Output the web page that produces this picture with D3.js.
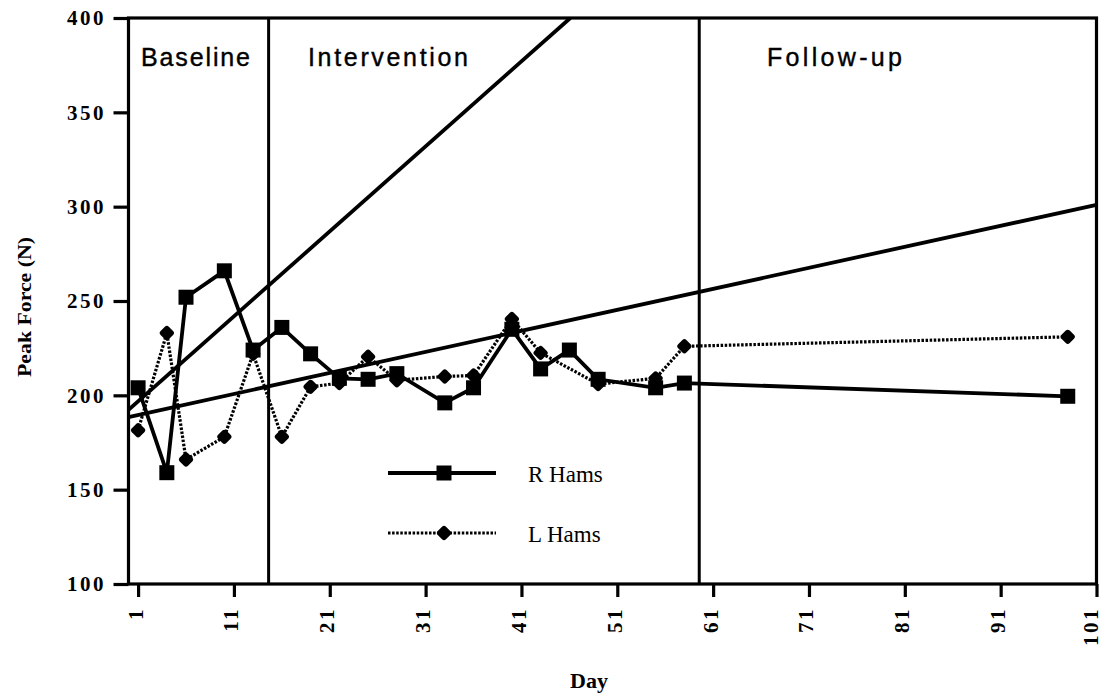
<!DOCTYPE html>
<html>
<head>
<meta charset="utf-8">
<script src="https://cdn.jsdelivr.net/npm/d3@7"></script>
<style>
  html, body { margin: 0; padding: 0; background: #fff; }
  svg { display: block; }
</style>
</head>
<body>
<svg id="chart" width="1103" height="694"></svg>
<script>
// Peak hamstring force (N) by day, across three study phases
const rDays   = [1, 4, 6, 10, 13, 16, 19, 22, 25, 28, 33, 36, 40, 43, 46, 49, 55, 58, 98];
const rValues = [204, 159, 252, 266, 224, 236, 222, 209, 208.5, 211.5, 196, 204, 235, 214, 224, 208.5, 204, 206.5, 199.5];

const lDays   = [1, 4, 6, 10, 13, 16, 19, 22, 25, 28, 33, 36, 40, 43, 49, 55, 58, 98];
const lValues = [181.5, 233, 166, 178, 222, 178, 204.5, 206.5, 220.5, 208, 210, 210.5, 240.5, 222.5, 206, 209, 226, 231];

// Fitted trend lines, each as [day, N] end points
const trendSteep   = [[0, 192.3], [46.1, 400]];
const trendShallow = [[0, 188.5], [101, 301]];

// Phase boundaries (day) and phase names
const phaseBreaks = [14.62, 59.55];
const phaseNames  = ["Baseline", "Intervention", "Follow-up"];

const xTicks = [1, 11, 21, 31, 41, 51, 61, 71, 81, 91, 101];
const yTicks = [100, 150, 200, 250, 300, 350, 400];

const seriesNames = ["R Hams", "L Hams"];

(function draw() {
  const svg = d3.select("#chart");
  const pL = 128.5, pR = 1096.5, pT = 18, pB = 584;

  const x = d3.scaleLinear().domain([0, 101]).range([pL, pR]);
  const y = d3.scaleLinear().domain([100, 400]).range([pB, pT]);

  const serif = "'Liberation Serif', 'Times New Roman', serif";
  const sans  = "'Liberation Sans', Arial, Helvetica, sans-serif";

  svg.append("defs").append("clipPath").attr("id", "plotClip")
    .append("rect").attr("x", pL).attr("y", pT)
    .attr("width", pR - pL).attr("height", pB - pT);

  // Trend lines
  const line = d3.line().x(d => x(d[0])).y(d => y(d[1]));
  const trendG = svg.append("g").attr("clip-path", "url(#plotClip)");
  [trendSteep, trendShallow].forEach(t => {
    trendG.append("path").attr("d", line(t))
      .attr("fill", "none").attr("stroke", "#000").attr("stroke-width", 3.8);
  });

  // Phase dividers
  svg.selectAll(".phase").data(phaseBreaks).enter().append("line")
    .attr("x1", d => x(d)).attr("x2", d => x(d))
    .attr("y1", pT).attr("y2", pB)
    .attr("stroke", "#000").attr("stroke-width", 3);

  // Phase labels
  const phaseLabelX = [141, 308, 767];
  const phaseLabelLen = [109, 160, 135];
  svg.selectAll(".phaseLabel").data(phaseNames).enter().append("text")
    .attr("x", (d, i) => phaseLabelX[i]).attr("y", 66)
    .attr("textLength", (d, i) => phaseLabelLen[i])
    .attr("lengthAdjust", "spacing")
    .attr("font-family", sans).attr("font-size", 25)
    .attr("stroke", "#000").attr("stroke-width", 0.4)
    .attr("fill", "#000").text(d => d);

  const lPts = lDays.map((d, i) => [d, lValues[i]]);
  const rPts = rDays.map((d, i) => [d, rValues[i]]);

  function diamond(g, cx, cy) {
    g.append("rect")
      .attr("x", -5.8).attr("y", -5.8).attr("width", 11.6).attr("height", 11.6)
      .attr("rx", 2.8)
      .attr("transform", `translate(${cx},${cy}) rotate(45)`)
      .attr("fill", "#000");
  }
  function square(g, cx, cy) {
    g.append("rect")
      .attr("x", cx - 7.5).attr("y", cy - 7.5).attr("width", 15).attr("height", 15)
      .attr("fill", "#000");
  }

  // L Hams (dotted with diamonds)
  svg.append("path").attr("d", line(lPts))
    .attr("fill", "none").attr("stroke", "#000").attr("stroke-width", 3.2)
    .attr("stroke-dasharray", "2.5,1.6");
  const lG = svg.append("g");
  lPts.forEach(p => diamond(lG, x(p[0]), y(p[1])));

  // R Hams (solid with squares)
  svg.append("path").attr("d", line(rPts))
    .attr("fill", "none").attr("stroke", "#000").attr("stroke-width", 3.8);
  const rG = svg.append("g");
  rPts.forEach(p => square(rG, x(p[0]), y(p[1])));

  // Frame
  svg.append("rect").attr("x", pL).attr("y", pT)
    .attr("width", pR - pL).attr("height", pB - pT)
    .attr("fill", "none").attr("stroke", "#000").attr("stroke-width", 3.2);

  // Y axis
  const yAxis = svg.append("g").attr("transform", `translate(${pL},0)`)
    .call(d3.axisLeft(y).tickValues(yTicks).tickSize(15).tickPadding(10).tickFormat(d3.format("d")));
  yAxis.select(".domain").remove();
  yAxis.selectAll(".tick line").attr("stroke", "#000").attr("stroke-width", 3.2);
  yAxis.selectAll(".tick text")
    .attr("font-family", serif).attr("font-weight", "bold").attr("font-size", 21)
    .attr("letter-spacing", "2.5px").attr("dx", "2.5px").attr("fill", "#000");

  // X axis (labels turned to read upward; the last one is nudged in from the edge)
  const xAxis = svg.append("g").attr("transform", `translate(0,${pB})`)
    .call(d3.axisBottom(x).tickValues(xTicks).tickSize(13).tickPadding(8).tickFormat(d3.format("d")));
  xAxis.select(".domain").remove();
  xAxis.selectAll(".tick line").attr("stroke", "#000").attr("stroke-width", 3.2);
  xAxis.selectAll(".tick text")
    .attr("font-family", serif).attr("font-weight", "bold").attr("font-size", 21)
    .attr("letter-spacing", "2.5px")
    .attr("text-anchor", "end")
    .attr("dy", null)
    .attr("transform", "rotate(-90)")
    .attr("x", -23).attr("y", d => d === xTicks[xTicks.length - 1] ? 1 : 4)
    .attr("fill", "#000");

  // Axis titles
  svg.append("text")
    .attr("transform", "translate(31,307) rotate(-90)")
    .attr("text-anchor", "middle")
    .attr("font-family", serif).attr("font-weight", "bold").attr("font-size", 19)
    .attr("textLength", 140).attr("lengthAdjust", "spacingAndGlyphs")
    .attr("fill", "#000").text("Peak Force (N)");

  svg.append("text")
    .attr("x", 589).attr("y", 688).attr("text-anchor", "middle")
    .attr("font-family", serif).attr("font-weight", "bold").attr("font-size", 22)
    .attr("fill", "#000").text("Day");

  // Legend
  const legendY = [473, 533];
  const lgX1 = 388, lgX2 = 496, lgMid = 444, lgText = 528;
  const leg = svg.append("g");
  leg.append("line").attr("x1", lgX1).attr("x2", lgX2).attr("y1", legendY[0]).attr("y2", legendY[0])
    .attr("stroke", "#000").attr("stroke-width", 3.8);
  square(leg, lgMid, legendY[0]);
  leg.append("line").attr("x1", lgX1).attr("x2", lgX2).attr("y1", legendY[1]).attr("y2", legendY[1])
    .attr("stroke", "#000").attr("stroke-width", 3.2).attr("stroke-dasharray", "2.5,1.6");
  diamond(leg, lgMid, legendY[1]);
  leg.selectAll(".lgText").data(seriesNames).enter().append("text")
    .attr("x", lgText).attr("y", (d, i) => legendY[i] + 9)
    .attr("font-family", serif).attr("font-size", 23)
    .attr("fill", "#000").text(d => d);
})();
</script>
</body>
</html>
